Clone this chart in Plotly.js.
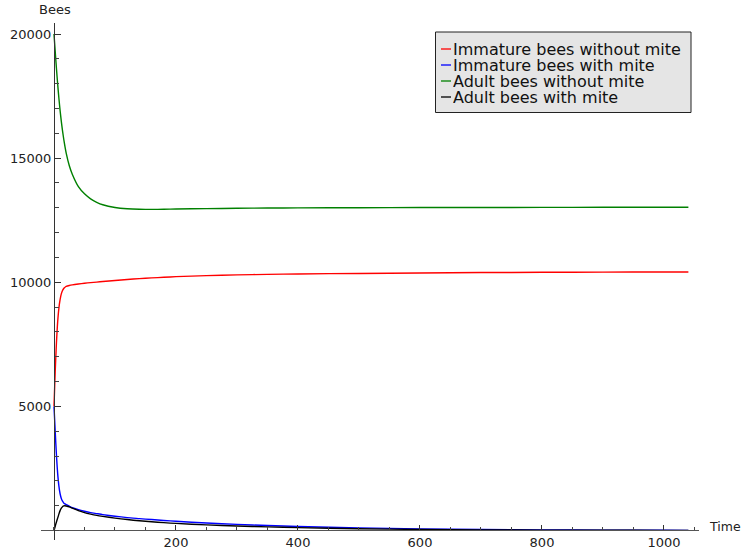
<!DOCTYPE html>
<html>
<head>
<meta charset="utf-8">
<script src="https://cdn.plot.ly/plotly-3.0.1.min.js"></script>
<style>html,body{margin:0;padding:0;background:#fff;}#chart{width:741px;height:556px;}</style>
</head>
<body>
<div id="chart"></div>
<script>
// Time points
const time = [0,1,2,3,4,5,6,8,10,12,14,16,18,20,25,30,40,50,60,70,80,100,120,140,160,180,200,250,300,350,400,500,600,700,800,900,1000,1040];
// Immature bees without mite
const immatureNoMite = [5000,5700,6400,7000,7550,8000,8400,8950,9300,9530,9670,9750,9800,9830,9870,9895,9930,9960,9985,10005,10030,10070,10110,10145,10175,10200,10225,10265,10295,10318,10335,10355,10375,10390,10400,10408,10412,10413];
// Immature bees with mite
const immatureMite = [5000,4500,4000,3500,3050,2650,2300,1800,1480,1290,1180,1110,1070,1040,980,920,840,775,720,680,640,575,520,480,440,405,370,300,245,200,160,105,65,40,24,14,8,6];
// Adult bees without mite
const adultNoMite = [20000,19650,19300,18950,18620,18300,17990,17420,16920,16480,16100,15760,15460,15200,14700,14350,13850,13560,13360,13220,13120,13010,12960,12940,12935,12940,12950,12965,12980,12988,12995,13003,13008,13012,13015,13018,13020,13020];
// Adult bees with mite
const adultMite = [0,80,170,260,340,420,500,660,800,900,960,990,995,985,950,900,800,720,660,610,570,500,440,390,350,315,285,225,180,145,115,70,42,25,15,9,5,4];

const seriesNames = ["Immature bees without mite","Immature bees with mite","Adult bees without mite","Adult bees with mite"];
const seriesColors = ["#ff0000","#0000ff","#008000","#000000"];
const seriesData = [immatureNoMite, immatureMite, adultNoMite, adultMite];

const xTickVals = [200,400,600,800,1000];
const yTickVals = [5000,10000,15000,20000];

const xRange = [-21.3, 1057.4];
const yRange = [-383, 20443];

const traces = seriesData.map((ys, i) => ({
  x: time, y: ys, type: 'scatter', mode: 'lines', name: seriesNames[i],
  line: {color: seriesColors[i], width: 1.4, shape: 'spline', smoothing: 0.6}
}));

const font = {family: 'DejaVu Sans, sans-serif', size: 13, color: '#222'};

// plot area in pixels: left 41, top 23, width 658, height 517
const px = v => (v - 41) / 658;
const py = v => 1 - (v - 23) / 517;

// custom legend box (matplotlib style, tight spacing)
const legendShapes = [{
  type: 'rect', xref: 'paper', yref: 'paper',
  x0: px(435.5), x1: px(691), y0: py(112.5), y1: py(32),
  fillcolor: '#e5e5e5', line: {color: '#222', width: 1}, layer: 'above'
}];
const legendAnnotations = [];
const rowY = [49, 65, 81, 97];
seriesNames.forEach((name, i) => {
  legendShapes.push({
    type: 'line', xref: 'paper', yref: 'paper',
    x0: px(441), x1: px(451), y0: py(rowY[i]), y1: py(rowY[i]),
    line: {color: seriesColors[i], width: 1.3}, layer: 'above'
  });
  legendAnnotations.push({
    text: name, xref: 'paper', yref: 'paper', x: px(451.5), y: py(rowY[i] + 0.5),
    xanchor: 'left', yanchor: 'middle', showarrow: false, height: 15, borderpad: 0,
    font: {family: 'DejaVu Sans, sans-serif', size: 16, color: '#111'}
  });
});

const layout = {
  width: 741, height: 556,
  margin: {l: 41, r: 42, t: 23, b: 16, pad: 0},
  paper_bgcolor: '#fff', plot_bgcolor: '#fff',
  font: font,
  showlegend: false,
  xaxis: {
    range: xRange, anchor: 'free',
    position: (0 - yRange[0]) / (yRange[1] - yRange[0]),
    showgrid: false, zeroline: false,
    showline: true, linecolor: '#555', linewidth: 1,
    ticks: 'inside', ticklen: 5, tickcolor: '#333', tickwidth: 1,
    tickvals: xTickVals, ticktext: xTickVals.map(String),
    minor: {tickmode: 'linear', tick0: 0, dtick: 50, ticks: 'inside', ticklen: 3, tickcolor: '#444', showgrid: false},
    tickfont: font
  },
  yaxis: {
    range: yRange, anchor: 'free',
    position: (0 - xRange[0]) / (xRange[1] - xRange[0]),
    showgrid: false, zeroline: false,
    showline: true, linecolor: '#333', linewidth: 1,
    ticks: 'inside', ticklen: 6, tickcolor: '#333', tickwidth: 1,
    tickvals: yTickVals, ticktext: yTickVals.map(String),
    minor: {tickmode: 'linear', tick0: 0, dtick: 1000, ticks: 'inside', ticklen: 4, tickcolor: '#444', showgrid: false},
    tickfont: font
  },
  shapes: legendShapes,
  annotations: [
    {text: 'Bees', xref: 'paper', yref: 'paper', x: px(55), y: py(9),
     xanchor: 'center', yanchor: 'middle', showarrow: false, font: font},
    {text: 'Time', xref: 'paper', yref: 'paper', x: px(706.5), y: py(526.7),
     xanchor: 'left', yanchor: 'middle', showarrow: false,
     font: {family: 'DejaVu Sans, sans-serif', size: 12.5, color: '#222'}}
  ].concat(legendAnnotations)
};

Plotly.newPlot('chart', traces, layout, {staticPlot: true, displayModeBar: false});
</script>
</body>
</html>
